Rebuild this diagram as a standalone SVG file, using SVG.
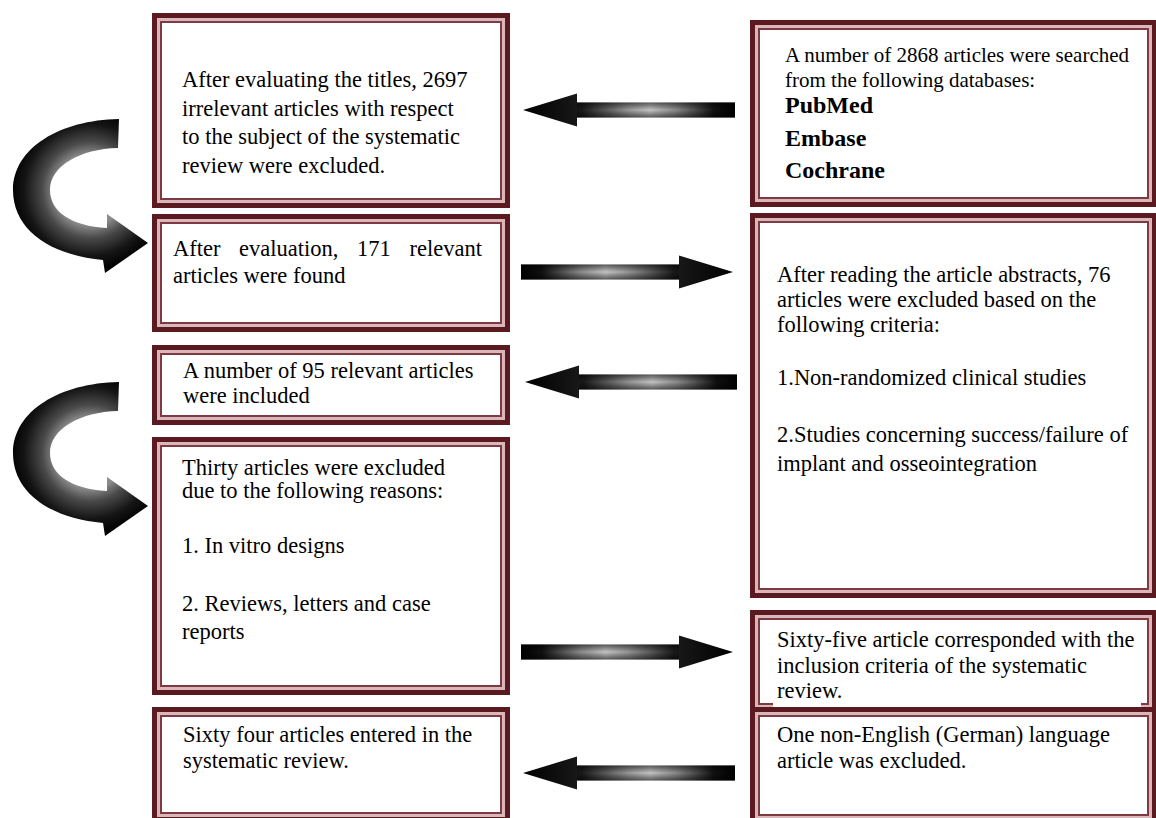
<svg xmlns="http://www.w3.org/2000/svg" width="1156" height="818" viewBox="0 0 1156 818">
<style>
.o{fill:#fff;stroke:#5a1a1f;stroke-width:5}
.m{fill:none;stroke:#d9b7ba;stroke-width:3}
.i{fill:none;stroke:#7e3a40;stroke-width:2}
.t{font-family:"Liberation Serif","Times New Roman",serif;font-size:22.5px;fill:#000}
.s{font-size:21px}
.b{font-size:24px;font-weight:bold}
</style>
<defs>
<linearGradient id="gl" x1="0" y1="0" x2="1" y2="0">
<stop offset="0" stop-color="#000"/><stop offset="0.28" stop-color="#1a1a1a"/><stop offset="0.5" stop-color="#999"/><stop offset="0.6" stop-color="#c4c4c4"/><stop offset="0.72" stop-color="#8a8a8a"/><stop offset="0.9" stop-color="#111"/><stop offset="1" stop-color="#000"/>
</linearGradient>
<linearGradient id="gr" x1="1" y1="0" x2="0" y2="0">
<stop offset="0" stop-color="#000"/><stop offset="0.28" stop-color="#1a1a1a"/><stop offset="0.5" stop-color="#999"/><stop offset="0.6" stop-color="#c4c4c4"/><stop offset="0.72" stop-color="#8a8a8a"/><stop offset="0.9" stop-color="#111"/><stop offset="1" stop-color="#000"/>
</linearGradient>
<linearGradient id="gv" x1="0" y1="0" x2="0" y2="1">
<stop offset="0" stop-color="#000" stop-opacity="0.55"/><stop offset="0.5" stop-color="#000" stop-opacity="0"/><stop offset="1" stop-color="#000" stop-opacity="0.55"/>
</linearGradient>
<radialGradient id="gc" gradientUnits="userSpaceOnUse" cx="90" cy="190" r="80">
<stop offset="0" stop-color="#999"/><stop offset="0.44" stop-color="#8c8c8c"/><stop offset="0.6" stop-color="#4a4a4a"/><stop offset="0.82" stop-color="#151515"/><stop offset="1" stop-color="#000"/>
</radialGradient>
<path id="la" d="M0,0 L54,-16.5 L54,-7.5 L212,-7.5 L212,7.5 L54,7.5 L54,16.5 Z"/>
<path id="ca" d="M119,119 C60,120 13,148 13,190 C13,230 50,255 103,260 L105,273 L148,243 L107,214 L107,228 C72,226 50,212 50,190 C50,166 80,149 118,148 Z"/>
</defs>
<rect width="1156" height="818" fill="#fff"/>

<g id="box-titles">
<rect class="o" x="154.5" y="15.5" width="353" height="190"/>
<rect class="m" x="158.5" y="19.5" width="345" height="182"/>
<rect class="i" x="161" y="22" width="340" height="177"/>
<text class="t" x="182" y="87">After evaluating the titles, 2697</text>
<text class="t" x="182" y="116">irrelevant articles with respect</text>
<text class="t" x="182" y="144">to the subject of the systematic</text>
<text class="t" x="182" y="173">review were excluded.</text>
</g>

<g id="box-171">
<rect class="o" x="154.5" y="216.5" width="353" height="113"/>
<rect class="m" x="158.5" y="220.5" width="345" height="105"/>
<rect class="i" x="161" y="223" width="340" height="100"/>
<text class="t" x="173" y="256" word-spacing="13">After evaluation, 171 relevant</text>
<text class="t" x="173" y="283">articles were found</text>
</g>

<g id="box-95">
<rect class="o" x="154.5" y="347.5" width="353" height="75"/>
<rect class="m" x="158.5" y="351.5" width="345" height="67"/>
<rect class="i" x="161" y="354" width="340" height="62"/>
<text class="t" x="183" y="378">A number of 95 relevant articles</text>
<text class="t" x="183" y="403">were included</text>
</g>

<g id="box-thirty">
<rect class="o" x="154.5" y="439.5" width="353" height="253"/>
<rect class="m" x="158.5" y="443.5" width="345" height="245"/>
<rect class="i" x="161" y="446" width="340" height="240"/>
<text class="t" x="182" y="475">Thirty articles were excluded</text>
<text class="t" x="182" y="498">due to the following reasons:</text>
<text class="t" x="182" y="553">1. In vitro designs</text>
<text class="t" x="182" y="611">2. Reviews, letters and case</text>
<text class="t" x="182" y="639">reports</text>
</g>

<g id="box-sixtyfour">
<rect class="o" x="154.5" y="709.5" width="353" height="110"/>
<rect class="m" x="158.5" y="713.5" width="345" height="102"/>
<rect class="i" x="161" y="716" width="340" height="97"/>
<text class="t" x="183" y="742">Sixty four articles entered in the</text>
<text class="t" x="183" y="768">systematic review.</text>
</g>

<g id="box-search">
<rect class="o" x="752.5" y="22.5" width="402" height="182"/>
<rect class="m" x="756.5" y="26.5" width="394" height="174"/>
<rect class="i" x="759" y="29" width="389" height="169"/>
<text class="t s" x="785" y="62">A number of 2868 articles were searched</text>
<text class="t s" x="785" y="87">from the following databases:</text>
<text class="t b" x="785" y="113">PubMed</text>
<text class="t b" x="785" y="146">Embase</text>
<text class="t b" x="785" y="178">Cochrane</text>
</g>

<g id="box-abstracts">
<rect class="o" x="752.5" y="215.5" width="402" height="380"/>
<rect class="m" x="756.5" y="219.5" width="394" height="372"/>
<rect class="i" x="759" y="222" width="389" height="367"/>
<text class="t" x="777" y="282">After reading the article abstracts, 76</text>
<text class="t" x="777" y="307">articles were excluded based on the</text>
<text class="t" x="777" y="332">following criteria:</text>
<text class="t" x="777" y="385">1.Non-randomized clinical studies</text>
<text class="t" x="777" y="442">2.Studies concerning success/failure of</text>
<text class="t" x="777" y="471">implant and osseointegration</text>
</g>

<g id="box-sixtyfive">
<rect class="o" x="752.5" y="612.5" width="402" height="98"/>
<rect class="m" x="756.5" y="616.5" width="394" height="90"/>
<rect class="i" x="759" y="619" width="389" height="85"/>
</g>

<g id="box-german">
<rect class="o" x="752.5" y="709.5" width="402" height="112"/>
<rect class="m" x="756.5" y="713.5" width="394" height="104"/>
<rect class="i" x="759" y="716" width="389" height="99"/>
<text class="t" x="777" y="742">One non-English (German) language</text>
<text class="t" x="777" y="768">article was excluded.</text>
</g>

<g id="box-sixtyfive-text">
<rect x="773" y="630" width="368" height="77" fill="#fff"/>
<text class="t" x="777" y="647">Sixty-five article corresponded with the</text>
<text class="t" x="777" y="673">inclusion criteria of the systematic</text>
<text class="t" x="777" y="698">review.</text>
</g>

<g id="connectors">
<g transform="translate(523,110)"><use href="#la" fill="url(#gl)"/><rect x="54" y="-7.5" width="158" height="15" fill="url(#gv)"/></g>
<g transform="translate(733,272) scale(-1,1)"><use href="#la" fill="url(#gl)"/><rect x="54" y="-7.5" width="158" height="15" fill="url(#gv)"/></g>
<g transform="translate(525,382)"><use href="#la" fill="url(#gl)"/><rect x="54" y="-7.5" width="158" height="15" fill="url(#gv)"/></g>
<g transform="translate(733,652) scale(-1,1)"><use href="#la" fill="url(#gl)"/><rect x="54" y="-7.5" width="158" height="15" fill="url(#gv)"/></g>
<g transform="translate(523,773)"><use href="#la" fill="url(#gl)"/><rect x="54" y="-7.5" width="158" height="15" fill="url(#gv)"/></g>
<use href="#ca" fill="url(#gc)"/>
<g transform="translate(0,263)"><use href="#ca" fill="url(#gc)"/></g>
</g>
</svg>
